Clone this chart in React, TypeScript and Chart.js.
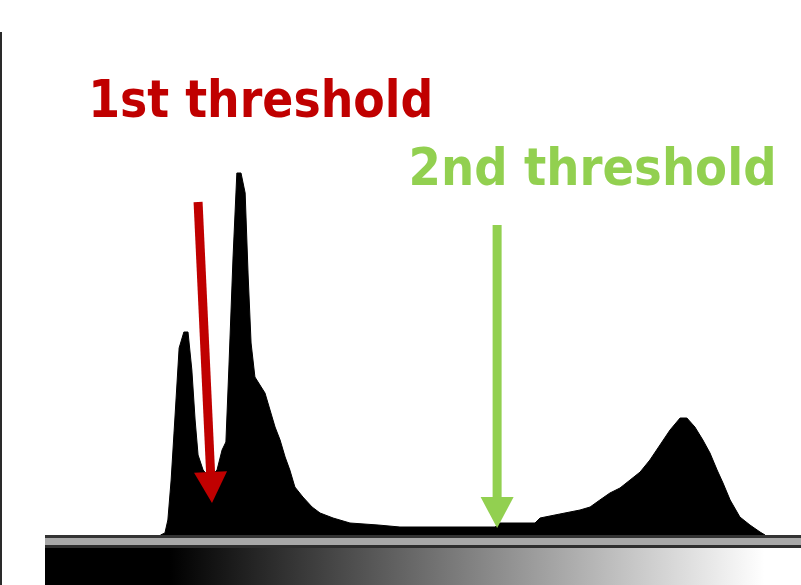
import React, { useEffect, useRef } from "react";
import { Chart, registerables } from "chart.js";

Chart.register(...registerables);

// Histogram: grey level (0..255) and pixel count (arbitrary units)
const grayLevels = [
  39, 40.5, 41.5, 42.6, 43.9, 45.3, 46.9, 48.3, 49.6, 50.7,
  51.7, 53.4, 55.7, 58.1, 59.8, 61.1, 62.1, 63.5, 64.8, 66.2,
  67.6, 68.6, 69.6, 70.9, 72.6, 74.3, 76.0, 77.7, 79.4, 81.1,
  82.7, 84.4, 87.1, 90.2, 92.9, 97.3, 103.0, 112.5, 119.9, 152.0,
  153.7, 165.5, 167.2, 173.9, 180.7, 184.1, 187.4, 190.8, 194.2, 197.6,
  201.0, 204.3, 207.7, 211.1, 214.5, 216.8, 219.5, 222.2, 224.6, 227.0,
  229.0, 231.4, 234.7, 238.1, 241.5, 243.2,
];
const pixelCounts = [
  0, 4, 30, 110, 236, 374, 406, 406, 330, 230,
  160, 130, 114, 130, 170, 186, 334, 554, 724, 724,
  684, 520, 384, 316, 300, 284, 250, 216, 190, 156,
  130, 96, 76, 56, 44, 34, 24, 20, 16, 16,
  24, 24, 34, 42, 50, 56, 70, 84, 94, 110,
  126, 150, 180, 210, 234, 234, 216, 190, 164, 130,
  104, 70, 36, 20, 6, 0,
];

// Threshold annotations
const thresholdLabels = ["1st threshold", "2nd threshold"];
const thresholdColors = ["#C00000", "#92D050"];
const arrowTailGray = [51.7, 152.7];
const arrowTailCount = [666, 620];
const arrowTipGray = [56.4, 152.7];
const arrowTipCount = [64, 14];
const labelGray = [14.6, 122.8];
const labelCount = [836, 700];
const labelInkWidth = [345, 368];

// Grey-ramp bar under the axis
const rampBlackLevel = 42;
const rampWhiteLevel = 243;

const overlayPlugin = {
  id: "histOverlay",
  afterDraw(chart: any) {
    const { ctx, chartArea, scales } = chart;
    const xs = scales.x;
    const ys = scales.y;
    const left = chartArea.left;
    const right = chart.width;
    const w = right - left;
    const b = chartArea.bottom;
    ctx.save();
    // left frame line
    ctx.fillStyle = "#2a2a2a";
    ctx.fillRect(0, 32, 2, chart.height - 32);
    // axis bands
    ctx.fillStyle = "#333333";
    ctx.fillRect(left, b, w, 3);
    ctx.fillStyle = "#a8a8a8";
    ctx.fillRect(left, b + 3, w, 7);
    ctx.fillStyle = "#2e2e2e";
    ctx.fillRect(left, b + 10, w, 3);
    // ramp
    const x0 = xs.getPixelForValue(rampBlackLevel);
    const x1 = xs.getPixelForValue(rampWhiteLevel);
    const g = ctx.createLinearGradient(x0, 0, x1, 0);
    g.addColorStop(0, "#000000");
    g.addColorStop(1, "#ffffff");
    ctx.fillStyle = g;
    ctx.fillRect(left, b + 13, w, chart.height - (b + 13));

    // arrows
    for (let i = 0; i < thresholdLabels.length; i++) {
      const tx = xs.getPixelForValue(arrowTailGray[i]);
      const ty = ys.getPixelForValue(arrowTailCount[i]);
      const px = xs.getPixelForValue(arrowTipGray[i]);
      const py = ys.getPixelForValue(arrowTipCount[i]);
      const dx = px - tx;
      const dy = py - ty;
      const len = Math.hypot(dx, dy);
      const ux = dx / len;
      const uy = dy / len;
      const headLen = 31;
      const headHalf = 16.5;
      const bx = px - ux * headLen;
      const by = py - uy * headLen;
      ctx.strokeStyle = thresholdColors[i];
      ctx.fillStyle = thresholdColors[i];
      ctx.lineWidth = 9;
      ctx.lineCap = "butt";
      ctx.beginPath();
      ctx.moveTo(tx, ty);
      ctx.lineTo(bx + ux * 2, by + uy * 2);
      ctx.stroke();
      ctx.beginPath();
      ctx.moveTo(px, py);
      ctx.lineTo(bx - uy * headHalf, by + ux * headHalf);
      ctx.lineTo(bx + uy * headHalf, by - ux * headHalf);
      ctx.closePath();
      ctx.fill();

      // label
      const lx = xs.getPixelForValue(labelGray[i]);
      const ly = ys.getPixelForValue(labelCount[i]);
      ctx.font = 'bold 51px "DejaVu Sans"';
      ctx.textBaseline = "alphabetic";
      ctx.textAlign = "left";
      const mw = ctx.measureText(thresholdLabels[i]).width;
      const sx = labelInkWidth[i] / mw;
      ctx.save();
      ctx.translate(lx, ly);
      ctx.scale(sx, 1);
      ctx.fillText(thresholdLabels[i], 0, 0);
      ctx.restore();
    }
    ctx.restore();
  },
};

export default function App() {
  const ref = useRef<HTMLCanvasElement | null>(null);
  useEffect(() => {
    if (!ref.current) return;
    const data = grayLevels.map((g, i) => ({ x: g, y: pixelCounts[i] }));
    const chart = new Chart(ref.current, {
      type: "line",
      data: {
        datasets: [
          {
            data,
            fill: "origin",
            backgroundColor: "#000000",
            borderColor: "#000000",
            borderWidth: 1,
            pointRadius: 0,
            tension: 0,
          },
        ],
      },
      options: {
        responsive: false,
        animation: false,
        devicePixelRatio: 1,
        layout: { padding: { left: 45, right: 1, top: 35, bottom: 50 } },
        plugins: { legend: { display: false }, tooltip: { enabled: false } },
        scales: {
          x: { type: "linear", min: 0, max: 255, display: false },
          y: { min: 0, max: 1000, display: false },
        },
      },
      plugins: [overlayPlugin],
    });
    return () => chart.destroy();
  }, []);
  return (
    <div style={{ position: "absolute", left: 0, top: 0, width: 801, height: 585, background: "#fff" }}>
      <canvas ref={ref} width={801} height={585} />
    </div>
  );
}
